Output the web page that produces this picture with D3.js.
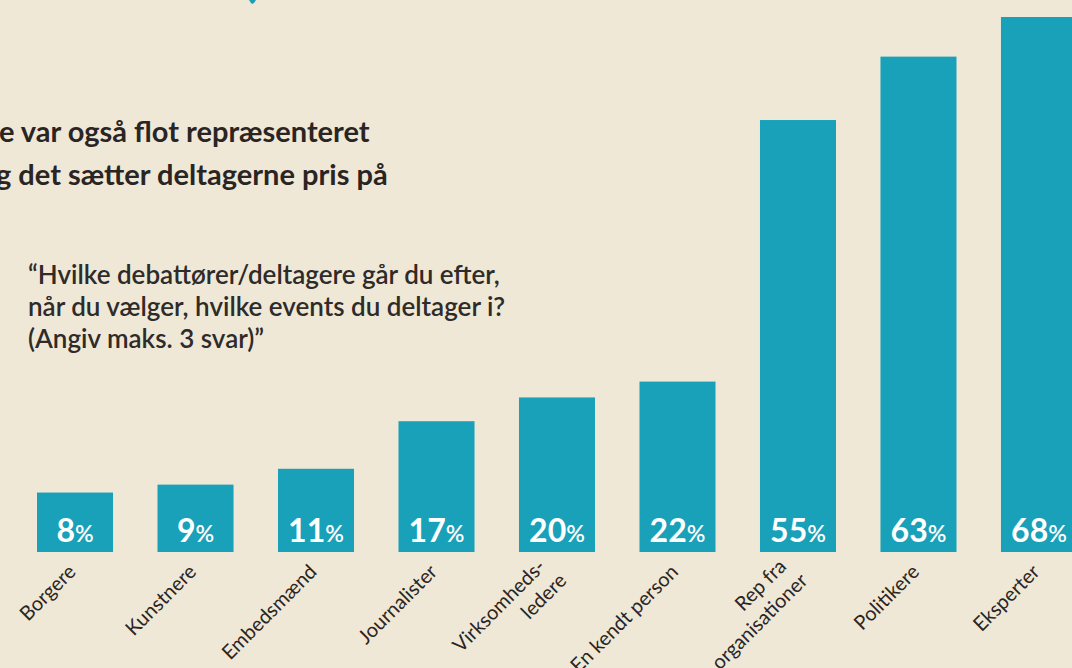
<!DOCTYPE html>
<html>
<head>
<meta charset="utf-8">
<script src="https://cdn.jsdelivr.net/npm/d3@7"></script>
<style>
    html, body { margin: 0; padding: 0; background: #efe8d7; }
    #chart { width: 1072px; height: 668px; overflow: hidden; }
    text { font-family: Lato, "Open Sans", sans-serif; }
</style>
</head>
<body>
<div id="chart"></div>
<script>
// Kategorier og procenter
const categories = ["Borgere", "Kunstnere", "Embedsmænd", "Journalister", "Virksomheds-\nledere",
    "En kendt person", "Rep fra\norganisationer", "Politikere", "Eksperter"];
const values = [8, 9, 11, 17, 20, 22, 55, 63, 68];

const titleLines = ["e var også flot repræsenteret", "g det sætter deltagerne pris på"];
const questionLines = ["“Hvilke debattører/deltagere går du efter,", "når du vælger, hvilke events du deltager i?", "(Angiv maks. 3 svar)”"];

const width = 1072;
const height = 668;
const barColor = "#18a1b9";
const textColor = "#2a2523";

const svg = d3.select("#chart").append("svg")
    .attr("width", width)
    .attr("height", height);

svg.append("rect")
    .attr("width", width)
    .attr("height", height)
    .attr("fill", "#efe8d7");

// lille afskåret ikon i toppen
svg.append("path")
    .attr("d", "M249,0 L256,0 L254,3 L252,4 L251,3 Z")
    .attr("fill", barColor);

// Akser
const x = d3.scaleBand()
    .domain(categories)
    .range([37, 1077])
    .paddingInner(0.369)
    .paddingOuter(0);

const y = d3.scaleLinear()
    .domain([0.5, 68])
    .range([552, 17]);

// Søjler
svg.selectAll("rect.bar")
    .data(values)
    .enter()
    .append("rect")
    .attr("class", "bar")
    .attr("x", (d, i) => x(categories[i]))
    .attr("y", d => y(d))
    .attr("width", x.bandwidth())
    .attr("height", d => y(0.5) - y(d))
    .attr("fill", barColor);

// Procent-tal i bunden af søjlerne
const valueText = svg.selectAll("text.value")
    .data(values)
    .enter()
    .append("text")
    .attr("class", "value")
    .attr("x", (d, i) => x(categories[i]) + x.bandwidth() / 2)
    .attr("y", 542)
    .attr("text-anchor", "middle")
    .attr("fill", "#ffffff")
    .attr("font-weight", 700)
    .attr("font-size", 32);
valueText.append("tspan").text(d => d);
valueText.append("tspan")
    .attr("font-size", 23)
    .attr("font-weight", 600)
    .text("%");

// Kategorinavne, drejet 45 grader
const labels = svg.selectAll("g.label")
    .data(categories)
    .enter()
    .append("g")
    .attr("class", "label")
    .attr("transform", d => `translate(${x(d) + x.bandwidth() / 2 + 2},573) rotate(-45)`);

labels.append("text")
    .attr("text-anchor", "end")
    .attr("fill", textColor)
    .attr("font-size", 20)
    .each(function (d) {
        const lines = d.split("\n");
        const lh = 25;
        const start = -(lines.length - 1) * lh / 2;
        d3.select(this).selectAll("tspan")
            .data(lines)
            .enter()
            .append("tspan")
            .attr("x", (l, i) => lines.length > 1 ? (i === 0 ? -5 : 0) : 0)
            .attr("y", (l, i) => start + i * lh)
            .text(l => l);
    });

// Overskrift (afskåret i venstre side)
svg.selectAll("text.title")
    .data(titleLines)
    .enter()
    .append("text")
    .attr("class", "title")
    .attr("x", (d, i) => i === 0 ? -1 : -4)
    .attr("y", (d, i) => 142 + i * 43)
    .attr("fill", textColor)
    .attr("font-weight", 700)
    .attr("font-size", 29)
    .text(d => d);

// Spørgsmålet
svg.selectAll("text.question")
    .data(questionLines)
    .enter()
    .append("text")
    .attr("class", "question")
    .attr("x", 28)
    .attr("y", (d, i) => 284 + i * 32)
    .attr("fill", "#2e2b29")
    .attr("font-weight", 600)
    .attr("font-size", 26)
    .text(d => d);
</script>
</body>
</html>
